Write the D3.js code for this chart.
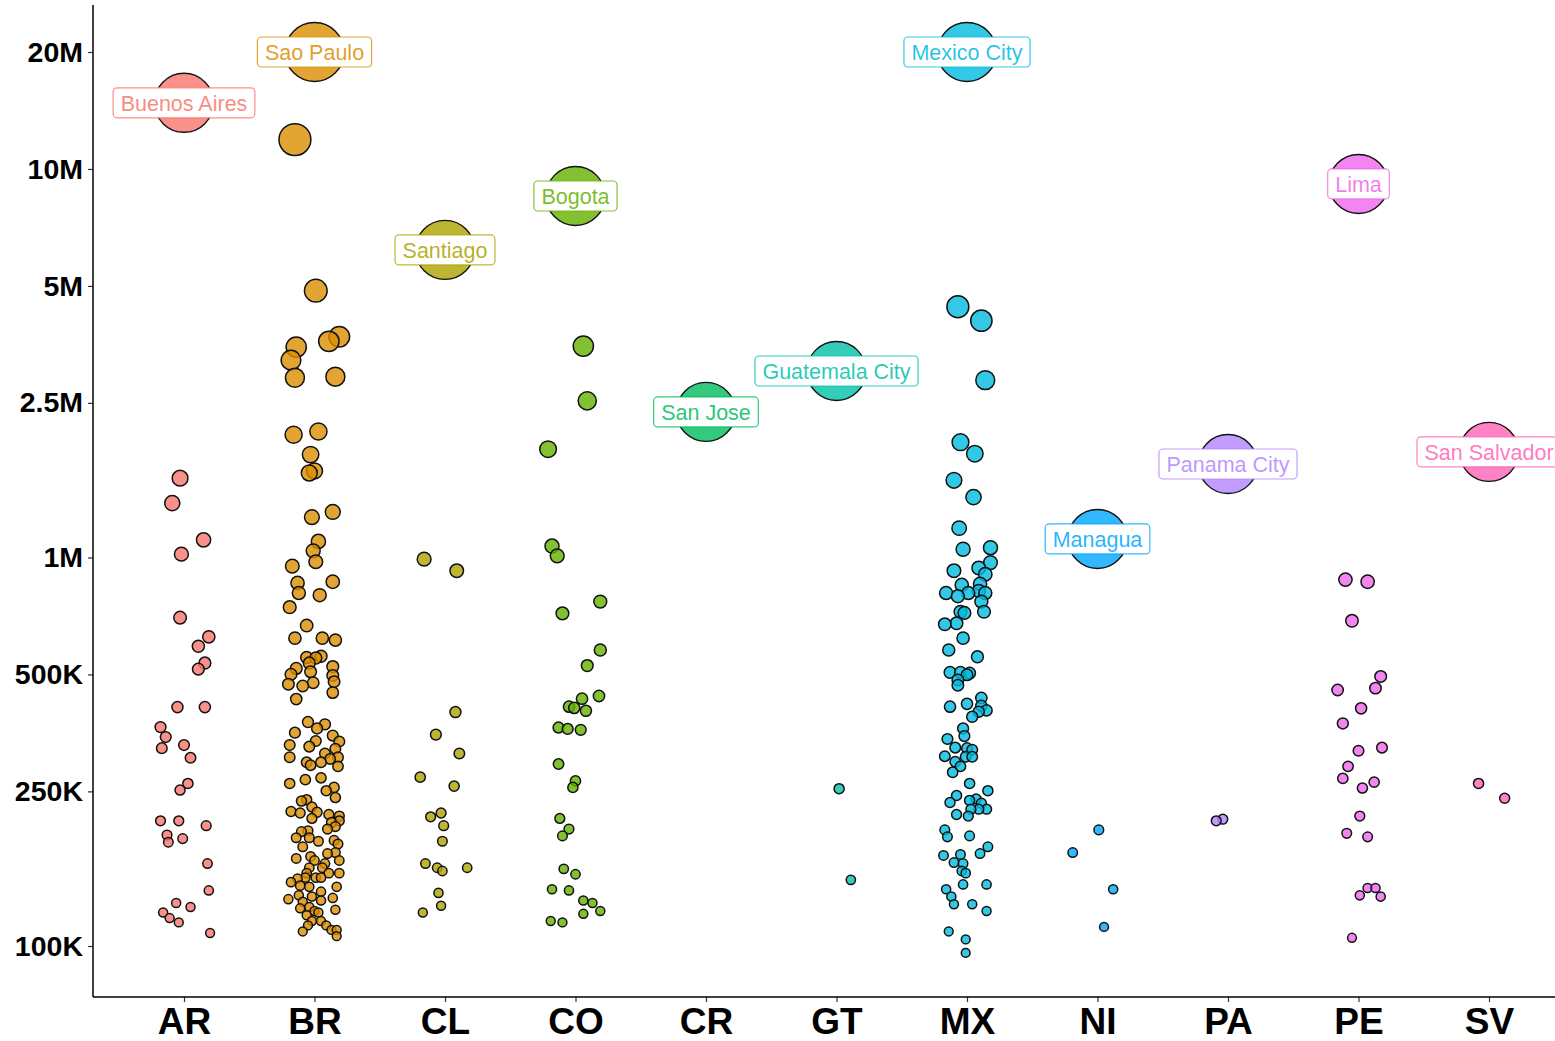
<!DOCTYPE html>
<html>
<head>
<meta charset="utf-8">
<script src="https://cdn.jsdelivr.net/npm/d3@7"></script>
<style>
  body { margin: 0; background: #fff; }
  text { font-family: "Liberation Sans", Arial, Helvetica, sans-serif; }
</style>
</head>
<body>
<div id="vis"></div>
<script>
// categories + colours (ggplot hue palette)
const countries = ['AR', 'BR', 'CL', 'CO', 'CR', 'GT', 'MX', 'NI', 'PA', 'PE', 'SV'];
const colors = ['#F8766D', '#DB8E00', '#AEA200', '#64B200', '#00BD5C', '#00C1A7',
                '#00BADE', '#00A6FF', '#B385FF', '#EF67EB', '#FF63B6'];

// capital cities, population in thousands
const capitalCity = ['Buenos Aires', 'Sao Paulo', 'Santiago', 'Bogota', 'San Jose', 'Guatemala City',
                     'Mexico City', 'Managua', 'Panama City', 'Lima', 'San Salvador'];
const capitalPop = [14800, 20000, 6190, 8520, 2370, 3020, 20000, 1116, 1740, 9150, 1870];

// other cities: [population in thousands, jitter in category units]
const AR = [[1600,-0.03],[1380,-0.09],[1110,0.15],[1020,-0.02],[700,-0.03],[625,0.19],[591,0.11],
  [535,0.16],[516,0.11],[412,-0.05],[412,0.16],[366,-0.18],[345,-0.14],[323,-0.17],[329,0],
  [305,0.05],[262,0.03],[252,-0.03],[210,-0.18],[210,-0.04],[204,0.17],[193,-0.13],[185,-0.12],
  [189,-0.01],[163,0.18],[139,0.19],[129,-0.06],[126,0.05],[122,-0.16],[118,-0.11],[115,-0.04],[108,0.2]];

const BR = [[11900,-0.15],[4860,0.01],[3480,-0.14],[3220,-0.18],[2900,-0.15],[3600,0.11],[3700,0.19],
  [2920,0.16],[2070,-0.16],[2110,0.03],[1840,-0.03],[1650,-0.04],[1670,0],[1270,-0.02],[1310,0.14],
  [1100,0.03],[1040,-0.01],[975,0.01],[950,-0.17],[860,-0.13],[810,-0.12],[866,0.14],[800,0.04],
  [745,-0.19],[668,-0.06],[620,-0.15],[620,0.06],[613,0.16],[553,-0.06],[551,0.01],[557,0.05],
  [535,-0.04],[518,-0.14],[500,-0.18],[508,-0.03],[524,0.14],[497,0.14],[472,-0.2],[467,-0.09],
  [476,-0.01],[479,0.15],[449,0.14],[432,-0.14],[377,-0.05],[363,0.02],[372,0.08],[354,-0.15],
  [329,-0.19],[326,-0.04],[337,0.01],[348,0.14],[336,0.19],[322,0.16],[313,0.08],[306,-0.19],
  [297,-0.06],[292,-0.03],[297,0.05],[303,0.12],[306,0.18],[290,0.18],[262,-0.19],[268,-0.07],
  [271,0.05],[251,0.09],[256,0.15],[241,0.16],[236,-0.1],[238,-0.06],[228,-0.02],[222,-0.18],
  [220,-0.11],[221,0.02],[213,-0.02],[218,0.11],[216,0.19],[208,0.13],[210,0.19],[200,0.1],
  [203,0.16],[190,-0.14],[197,-0.1],[198,-0.05],[190,-0.04],[186,0.03],[187,0.15],[183,0.18],
  [180,-0.09],[174,0.16],[173,0.1],[166,0.19],[168,-0.14],[170,-0.03],[166,0],[163,0.08],
  [159,-0.04],[159,0.06],[154,-0.06],[154,0.11],[154,0.19],[150,0.01],[150,0.05],[146,-0.18],
  [149,-0.13],[150,-0.07],[142,0.17],[143,-0.11],[142,-0.04],[138,0.05],[132,-0.2],[135,-0.12],
  [134,-0.02],[131,0.05],[133,0.14],[130,-0.09],[125,-0.11],[126,-0.04],[123,0],[122,0.03],
  [124,0.16],[120,-0.06],[116,-0.02],[116,0.05],[113,0.09],[113,-0.05],[110,0.13],[110,0.17],
  [109,-0.09],[106,0.17]];

const CL = [[990,-0.16],[925,0.09],[400,0.08],[350,-0.07],[313,0.11],[272,-0.19],[258,0.07],
  [220,-0.03],[215,-0.11],[204,-0.01],[186,-0.02],[163,-0.15],[159,-0.06],[156,-0.02],[159,0.17],
  [137,-0.05],[127,-0.03],[122,-0.17]];

const CO = [[3500,0.06],[2530,0.09],[1900,-0.21],[1070,-0.18],[1010,-0.14],[770,0.19],[718,-0.1],
  [578,0.19],[527,0.09],[433,0.05],[440,0.18],[413,-0.05],[410,-0.01],[403,0.08],[365,-0.13],
  [362,-0.06],[360,0.04],[294,-0.13],[266,0],[256,-0.02],[213,-0.12],[200,-0.05],[192,-0.1],
  [158,-0.09],[153,0],[140,-0.18],[139,-0.05],[131,0.06],[129,0.13],[121,0.06],[123,0.19],
  [116,-0.19],[115,-0.1]];

const CR = [];

const GT = [[254,0.02],[148,0.11]];

const MX = [[4420,-0.07],[4070,0.11],[2860,0.14],[1980,-0.05],[1850,0.06],[1580,-0.1],[1430,0.05],
  [1190,-0.06],[1050,-0.03],[1060,0.18],[970,0.18],[925,-0.1],[940,0.09],[905,0.14],[855,0.1],
  [850,-0.04],[810,-0.16],[795,-0.07],[810,0.01],[820,0.09],[810,0.14],[770,0.11],[725,-0.05],
  [720,-0.02],[725,0.13],[673,-0.17],[677,-0.08],[620,-0.03],[578,-0.14],[555,0.08],[506,-0.13],
  [506,-0.05],[504,0.02],[499,0],[484,-0.07],[469,-0.07],[435,0.11],[413,-0.13],[420,0],
  [401,0.09],[404,0.15],[389,0.04],[415,0.11],[363,-0.03],[341,-0.15],[347,-0.02],[324,-0.09],
  [323,0],[320,0.04],[308,-0.17],[307,-0.01],[307,0.04],[298,-0.09],[290,-0.05],[280,-0.11],
  [262,0.02],[251,0.16],[244,-0.08],[234,-0.13],[237,0.02],[239,0.07],[233,0.11],[225,0.15],
  [225,0.09],[225,0.03],[218,-0.08],[216,0.01],[199,-0.17],[191,-0.15],[192,0.02],[180,0.16],
  [171,-0.18],[164,-0.1],[172,-0.05],[163,-0.03],[173,0.1],[156,-0.04],[154,-0.01],[144,-0.03],
  [144,0.15],[140,-0.16],[134,-0.12],[128,-0.1],[128,0.04],[123,0.15],[109,-0.14],[104,-0.01],[96,-0.01]];

const NI = [[199,0.01],[174,-0.19],[140,0.12],[112,0.05]];

const PA = [[210,-0.09],[212,-0.04]];

const PE = [[877,-0.1],[866,0.07],[687,-0.05],[494,0.17],[461,0.13],[456,-0.16],[409,0.02],
  [374,-0.12],[318,0],[324,0.18],[290,-0.08],[270,-0.12],[255,0.03],[264,0.12],[216,0.01],
  [195,-0.09],[191,0.07],[141,0.07],[141,0.13],[135,0.01],[134,0.17],[105,-0.05]];

const SV = [[262,-0.08],[240,0.12]];

const yTicks = [1e5, 2.5e5, 5e5, 1e6, 2.5e6, 5e6, 1e7, 2e7];
const yTickLabels = ['100K', '250K', '500K', '1M', '2.5M', '5M', '10M', '20M'];

// svg
const W = 1555, H = 1041;
const svg = d3.select('#vis')
    .append('svg')
    .attr('width', W)
    .attr('height', H);

const axisX = 93, axisY = 997;

// scales
const xScale = d3.scalePoint()
    .domain(countries)
    .range([184, 1489]);

const yScale = d3.scaleLog()
    .domain([1e5, 2e7])
    .range([946, 52]);

const rScale = d3.scaleSqrt()
    .domain([0, 12e6])
    .range([3.2, 16]);

const color = d3.scaleOrdinal().domain(countries).range(colors);

// flatten data
const groups = { AR, BR, CL, CO, CR, GT, MX, NI, PA, PE, SV };
const points = [];
countries.forEach(c => {
    groups[c].forEach(d => points.push({ country: c, pop: d[0] * 1000, jit: d[1] }));
});
// draw bigger ones first so small ones stay visible
points.sort((a, b) => b.pop - a.pop);

const capitals = countries.map((c, i) => ({ country: c, city: capitalCity[i], pop: capitalPop[i] * 1000 }));

// axes
const yAxis = d3.axisLeft(yScale)
    .tickValues(yTicks)
    .tickFormat((d, i) => yTickLabels[i])
    .tickSize(5)
    .tickPadding(5);

const gy = svg.append('g')
    .attr('transform', `translate(${axisX},0)`)
    .call(yAxis);
gy.select('.domain').remove();
gy.selectAll('.tick line').attr('stroke', '#333').attr('stroke-width', 1.2);
gy.selectAll('.tick text')
    .attr('fill', '#000')
    .style('font-size', '28.5px')
    .style('font-weight', 'bold');

const xAxis = d3.axisBottom(xScale)
    .tickSize(5)
    .tickPadding(6);

const gx = svg.append('g')
    .attr('transform', `translate(0,${axisY})`)
    .call(xAxis);
gx.select('.domain').remove();
gx.selectAll('.tick line').attr('stroke', '#333').attr('stroke-width', 1.2);
gx.selectAll('.tick text')
    .attr('fill', '#000')
    .style('font-size', '37px')
    .style('font-weight', 'bold');

svg.append('line')
    .attr('x1', axisX).attr('x2', axisX)
    .attr('y1', 5).attr('y2', axisY)
    .attr('stroke', '#000').attr('stroke-width', 1.5);
svg.append('line')
    .attr('x1', axisX).attr('x2', W)
    .attr('y1', axisY).attr('y2', axisY)
    .attr('stroke', '#000').attr('stroke-width', 1.5);

// city points
svg.append('g')
    .selectAll('.point')
    .data(points)
    .join('circle')
    .attr('class', 'point')
    .attr('cx', d => xScale(d.country) + d.jit * xScale.step())
    .attr('cy', d => yScale(d.pop))
    .attr('r', d => rScale(d.pop))
    .attr('fill', d => color(d.country))
    .attr('fill-opacity', 0.8)
    .attr('stroke', '#111')
    .attr('stroke-width', 1.5);

// capitals
svg.append('g')
    .selectAll('.capital')
    .data(capitals)
    .join('circle')
    .attr('class', 'capital')
    .attr('cx', d => xScale(d.country))
    .attr('cy', d => yScale(d.pop))
    .attr('r', 29.5)
    .attr('fill', d => color(d.country))
    .attr('fill-opacity', 0.8)
    .attr('stroke', '#111')
    .attr('stroke-width', 1.4);

// capital labels
const labels = svg.append('g')
    .selectAll('.label')
    .data(capitals)
    .join('g')
    .attr('class', 'label')
    .attr('transform', d => `translate(${xScale(d.country)},${yScale(d.pop)})`);

labels.append('text')
    .attr('text-anchor', 'middle')
    .attr('dy', '0.36em')
    .style('font-size', '21.5px')
    .attr('fill', d => color(d.country))
    .attr('fill-opacity', 0.85)
    .text(d => d.city)
    .each(function (d) { d.tw = this.getComputedTextLength(); });

labels.insert('rect', 'text')
    .attr('x', d => -d.tw / 2 - 7.5)
    .attr('y', -15)
    .attr('width', d => d.tw + 15)
    .attr('height', 30)
    .attr('rx', 4)
    .attr('fill', '#fff')
    .attr('stroke', d => color(d.country))
    .attr('stroke-opacity', 0.8)
    .attr('stroke-width', 1.2);
</script>
</body>
</html>
